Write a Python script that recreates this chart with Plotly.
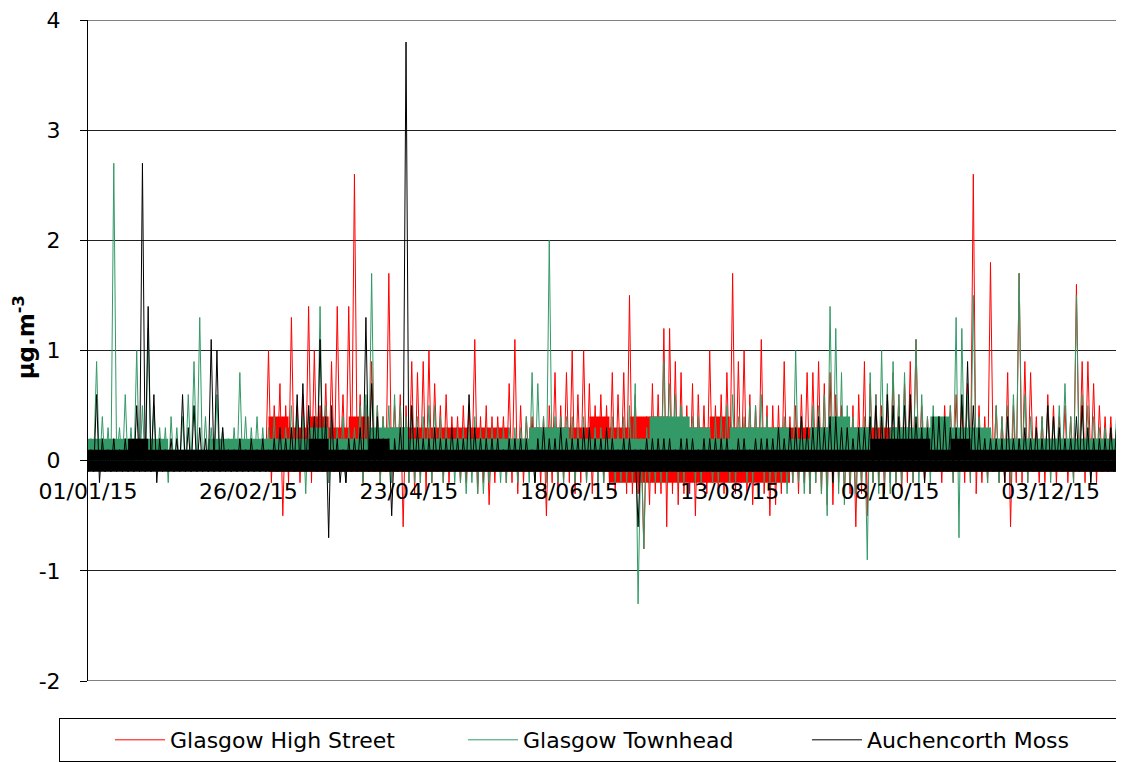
import plotly.graph_objects as go
import pandas as pd

# ---- data: 2-day bins (bin i covers days 2i..2i+1 of 2015), values in tenths of ug/m3 ----
# each bin has a low value (plotted at day 2i) and a high value (plotted at day 2i+1)
n_bins = 181
day_positions = pd.date_range("2015-01-01", periods=2 * n_bins, freq="D")
# weekly dense-band levels (tenths), week w starting on day 7w
n_weeks = 53
week_positions = pd.date_range("2015-01-01", periods=n_weeks, freq="7D")

high_street_hi = [None] * 31 + [
    10, 5, 7, 5, 13, 5, 6, 14, 10,
    5, 7, 9, 14, 6, 14, 26, 6, 5, 9,
    5, 4, 17, 5, 6, 5, 9, 8, 9, 10,
    7, 5, 6, 4, 4, 5, 5, 11, 4, 5,
    4, 4, 4, 7, 11, 5, 4, 4, 3, 4,
    5, 8, 5, 8, 10, 6, 10, 7, 5, 6,
    5, 8, 6, 8, 15, 6, 3, 4, 7, 6,
    12, 12, 9, 8, 5, 7, 6, 5, 10, 5,
    6, 8, 17, 9, 10, 6, 5, 11, 5, 5,
    5, 9, 4, 5, 6, 8, 8, 9, 7, 8,
    6, 5, 4, 5, 6, 9, 7, 6, 5, 6,
    8, 6, 7, 9, 11, 5, 4, 3, 4, 5,
    5, 6, 5, 7, 26, 5, 4, 18, 5, 4,
    8, 5, 17, 9, 8, 4, 4, 6, 5, 4,
    5, 4, 16, 9, 9, 7, 5, 4, 4, 3, 4,
]
high_street_lo = [None] * 31 + [
    -1, -2, -1, -5, -2, -1, -2, -1, -2,
    -1, -1, -2, -1, -1, -2, -1, -1, -2, -1,
    -1, -2, -1, -2, -1, -6, -2, -3, -2, -3,
    -2, -1, -2, -2, -1, -2, -2, -1, -3, -2,
    -4, -2, -1, -2, -2, -3, -2, -1, -2, -2,
    -5, -2, -3, -2, -2, -3, -2, -2, -3, -2,
    -2, -2, -3, -2, -3, -3, -3, -8, -4, -3,
    -3, -6, -3, -4, -3, -3, -5, -2, -3, -2,
    -3, -3, -2, -3, -2, -3, -4, -3, -3, -5,
    -4, -3, -2, -2, -3, -2, -3, -2, -3, -4,
    -4, -2, -3, -3, -6, -3, -5, -2, -2, -3,
    -2, -2, -3, -2, -2, -1, -2, -1, -1, -2,
    -1, -2, -1, -2, -2, -3, -2, -2, -1, -2,
    -2, -6, -2, -2, -2, -1, -2, -2, -1, -2,
    -1, -2, -2, -1, -2, -1, -2, -1, -1, -1, -1,
]
high_street_band_top = [None] * 9 + [
    4, 3, 4, 3, 4, 2, 3, 3, 3, 3,
    3, 3, 2, 3, 3, 3, 4, 3, 4, 4,
    3, 3, 4, 3, 3, 3, 3, 3, 2, 3,
    3, 3, 2, 2, 2, 2, 2, 2, 2, 2,
    2, 2, 2, 2,
]
high_street_band_bottom = [None] * 9 + [
    -1, -1, -1, -1, -1, -1, -1, -1, -1, -1,
    -1, -1, -1, -1, -1, -1, -1, -2, -2, -2,
    -2, -2, -2, -2, -2, -2, -1, -1, -1, -1,
    -1, -1, -1, -1, -1, -1, -1, -1, -1, -1,
    -1, -1, -1, -1,
]

townhead_hi = [
    2, 9, 4, 3, 27, 3, 6, 3, 10, 5,
    12, 5, 3, 3, 4, 3, 4, 6, 9, 13,
    4, 3, 6, 3, 2, 3, 8, 4, 3, 4,
    3, 3, 4, 3, 3, 5, 4, 4, 5, 4,
    14, 5, 4, 3, 4, 3, 3, 5, 6, 17,
    5, 4, 5, 6, 5, 4, 5, 4, 4, 5,
    5, 4, 3, 3, 3, 3, 3, 4, 3, 3,
    3, 3, 3, 3, 3, 3, 4, 8, 7, 4,
    20, 4, 4, 4, 4, 3, 4, 3, 3, 3,
    3, 4, 3, 4, 5, 7, 2, 3, 3, 4,
    9, 7, 6, 5, 4, 4, 4, 3, 3, 4,
    4, 5, 6, 4, 4, 5, 5, 6, 4, 3,
    3, 4, 3, 10, 4, 3, 5, 5, 6, 14,
    12, 8, 5, 4, 3, 4, 8, 6, 10, 7,
    9, 6, 8, 6, 11, 6, 4, 5, 4, 3,
    5, 13, 12, 6, 15, 4, 3, 3, 5, 4,
    5, 6, 17, 6, 4, 3, 4, 5, 4, 5,
    7, 4, 15, 6, 5, 4, 3, 3, 3, 4, 8,
]
townhead_lo = [
    -1, 0, -1, -1, -1, 0, -1, -1, -1, -1,
    -1, -1, -1, -1, -2, -1, -1, -1, -1, -1,
    -1, -1, -1, -1, -1, -1, -1, -1, -1, -1,
    -1, -1, -1, -1, -1, -1, -1, -1, -3, -1,
    -1, -1, -2, -1, -1, -2, -1, -1, -2, -1,
    -1, -2, -1, -2, -1, -1, -2, -2, -2, -1,
    -2, -1, -2, -1, -2, -2, -3, -2, -3, -3,
    -2, -1, -2, -2, -1, -2, -1, -2, -2, -1,
    -2, -1, -2, -2, -1, -2, -1, -2, -1, -2,
    -2, -1, -2, -2, -2, -2, -13, -8, -2, -2,
    -2, -2, -1, -2, -2, -1, -2, -2, -1, -2,
    -2, -1, -2, -2, -1, -2, -2, -1, -2, -2,
    -2, -2, -3, -2, -2, -3, -3, -2, -3, -5,
    -2, -3, -4, -2, -3, -2, -9, -2, -3, -2,
    -3, -2, -2, -1, -2, -2, -1, -2, -1, -1,
    -1, -2, -7, -1, -2, -1, -1, -2, -1, -2,
    -1, -2, -1, -1, -2, -1, -1, -1, -2, -1,
    -1, -1, -2, -1, -1, -2, -1, -1, -1, -1, -1,
]
townhead_band_top = [
    2, 2, 2, 2, 1, 1, 2, 2, 2, 2,
    2, 3, 2, 2, 3, 3, 2, 2, 2, 2,
    2, 2, 3, 3, 2, 2, 2, 2, 4, 4,
    3, 2, 3, 3, 3, 2, 3, 4, 3, 2,
    3, 3, 4, 3, 3, 2, 2, 2, 2, 2,
    2, 2, 2,
]

auchencorth_hi = [
    1, 6, 2, 1, 2, 1, 2, 1, 5, 27,
    14, 6, 2, 1, 2, 2, 6, 3, 5, 3,
    2, 11, 10, 3, 1, 1, 2, 1, 2, 1,
    2, 1, 2, 3, 2, 3, 6, 7, 5, 4,
    11, 4, 5, 2, 1, 2, 2, 3, 13, 7,
    4, 2, 2, 2, 3, 38, 5, 3, 2, 2,
    3, 2, 2, 3, 2, 2, 6, 3, 2, 2,
    2, 2, 1, 2, 2, 2, 2, 1, 2, 3,
    2, 2, 3, 2, 2, 2, 3, 3, 2, 2,
    3, 2, 1, 2, 2, 1, 1, 2, 2, 2,
    2, 2, 1, 2, 2, 2, 1, 2, 2, 2,
    2, 2, 1, 2, 2, 1, 2, 2, 2, 2,
    3, 2, 3, 3, 4, 3, 3, 4, 3, 4,
    4, 3, 3, 2, 3, 3, 4, 5, 4, 6,
    5, 4, 5, 6, 4, 3, 3, 4, 4, 4,
    3, 3, 6, 9, 5, 3, 2, 2, 2, 2,
    4, 2, 2, 3, 2, 3, 2, 5, 4, 3,
    2, 2, 4, 5, 3, 2, 2, 2, 3, 3, 5,
]
auchencorth_lo = [
    -1, -1, -2, -1, -1, -1, -1, -1, -1, -1,
    -1, -1, -2, -1, -1, -1, -1, -1, -1, -1,
    -1, -1, -1, -1, -1, -1, -1, -1, -1, -1,
    -1, -1, -1, -1, -1, -1, -1, -1, -1, -1,
    -1, -1, -7, -1, -2, -2, -1, -1, -1, -1,
    -1, -1, -1, -5, -1, -1, -1, -1, -1, -1,
    -1, -1, -1, -1, -1, -1, -1, -1, -1, -1,
    -1, -1, -1, -1, -1, -1, -1, -1, -2, -1,
    -1, -1, -1, -1, -1, -1, -1, -1, -1, -1,
    -1, -1, -1, -1, -1, -1, -6, -1, -1, -1,
    -1, -1, -1, -1, -1, -1, -1, -1, -1, -1,
    -1, -1, -1, -1, -1, -1, -1, -1, -1, -1,
    -1, -1, -1, -1, -1, -1, -1, -1, -1, -1,
    -2, -1, -1, -1, -1, -1, -1, -1, -1, -1,
    -1, -1, -1, -1, -1, -1, -2, -1, -1, -1,
    -1, -1, -1, -1, -1, -1, -1, -1, -1, -1,
    -2, -1, -1, -1, -1, -1, -1, -1, -1, -1,
    -1, -1, -1, -1, -1, -2, -1, -1, -1, -1, -1,
]
auchencorth_band_top = [
    1, 1, 2, 1, 1, 1, 1, 1, 1, 1,
    1, 2, 1, 1, 2, 1, 1, 1, 1, 1,
    1, 1, 1, 1, 1, 1, 1, 1, 1, 1,
    1, 1, 1, 1, 1, 1, 1, 1, 1, 2,
    2, 2, 1, 2, 1, 1, 1, 1, 1, 1,
    1, 1, 1,
]
auchencorth_band_bottom = [
    -1, -1, -1, -1, -1, -1, -1, -1, -1, -1,
    -1, -1, -1, -1, -1, -1, -1, -1, -1, -1,
    -1, -1, -1, -1, -1, -1, -1, -1, -1, -1,
    -1, -1, -1, -1, -1, -1, -1, -1, -1, -1,
    -1, -1, -1, -1, -1, -1, -1, -1, -1, -1,
    -1, -1, -1,
]

series_names = ["Glasgow High Street", "Glasgow Townhead", "Auchencorth Moss"]
series_colors = ["#ff0000", "#339966", "#000000"]

tick_dates = ["2015-01-01", "2015-02-26", "2015-04-23", "2015-06-18",
              "2015-08-13", "2015-10-08", "2015-12-03"]
tick_labels = ["01/01/15", "26/02/15", "23/04/15", "18/06/15",
               "13/08/15", "08/10/15", "03/12/15"]
y_ticks = [-2, -1, 0, 1, 2, 3, 4]
y_tick_labels = ["-2", "-1", "0", "1", "2", "3", "4"]


def tenths(values):
    return [None if v is None else v / 10 for v in values]


def zigzag(lo, hi):
    xs, ys = [], []
    for i in range(n_bins):
        xs.append(day_positions[2 * i])
        ys.append(None if lo[i] is None else lo[i] / 10)
        xs.append(day_positions[2 * i + 1])
        ys.append(None if hi[i] is None else hi[i] / 10)
    return xs, ys


series = [
    (high_street_lo, high_street_hi, [high_street_band_top, high_street_band_bottom]),
    (townhead_lo, townhead_hi, [townhead_band_top]),
    (auchencorth_lo, auchencorth_hi, [auchencorth_band_top, auchencorth_band_bottom]),
]
legend_widths = [238, 229, 245]

fig = go.Figure()
for name, color, lw, (lo, hi, bands) in zip(series_names, series_colors,
                                            legend_widths, series):
    for band in bands:
        fig.add_trace(go.Scatter(x=week_positions, y=tenths(band), mode="lines",
                                 fill="tozeroy", fillcolor=color,
                                 line=dict(color=color, width=0, shape="hv"),
                                 showlegend=False, hoverinfo="skip"))
    xs, ys = zigzag(lo, hi)
    fig.add_trace(go.Scatter(x=xs, y=ys, mode="lines", name=name,
                             line=dict(color=color, width=1),
                             connectgaps=False, legendwidth=lw))

fig.update_layout(
    width=1116, height=754,
    margin=dict(l=80, r=0, t=12, b=81, autoexpand=False),
    plot_bgcolor="white", paper_bgcolor="white",
    font=dict(family="DejaVu Sans", size=22, color="black"),
    showlegend=True,
    legend=dict(orientation="h", x=-0.028, xanchor="left", y=-0.056,
                yanchor="top", bordercolor="black", borderwidth=1,
                font=dict(size=22, family="DejaVu Sans"),
                indentation=50, itemwidth=50, traceorder="normal"),
    xaxis=dict(type="date", range=["2015-01-01", "2015-12-28 14:24"],
               tickmode="array", tickvals=tick_dates, ticktext=tick_labels,
               anchor="free", position=1 / 3, showline=True,
               linecolor="black", linewidth=1, ticks="", showgrid=False,
               zeroline=False, tickfont=dict(size=22),
               ticklabelstandoff=11),
    yaxis=dict(range=[-2, 4], tickmode="array",
               tickvals=y_ticks, ticktext=y_tick_labels,
               showgrid=True, gridcolor="#222222", gridwidth=1,
               showline=True, linecolor="black", linewidth=1,
               ticks="outside", ticklen=7, tickcolor="black",
               zeroline=False, tickfont=dict(size=22),
               ticklabelstandoff=15, ticklabeloverflow="allow"),
    shapes=[
        dict(type="line", xref="paper", yref="y", x0=0, x1=1, y0=-2, y1=-2,
             line=dict(color="#808080", width=2), layer="above"),
        dict(type="line", xref="paper", yref="y", x0=0, x1=1, y0=4, y1=4,
             line=dict(color="#808080", width=2), layer="above"),
    ],
    annotations=[dict(text="<b>µg.m<sup>-3</sup></b>", xref="paper",
                      yref="paper", x=-0.0615, y=0.5204, xanchor="center",
                      yanchor="middle", textangle=-90, showarrow=False,
                      font=dict(size=23, family="DejaVu Sans"))],
)

fig.write_html("out.html")
